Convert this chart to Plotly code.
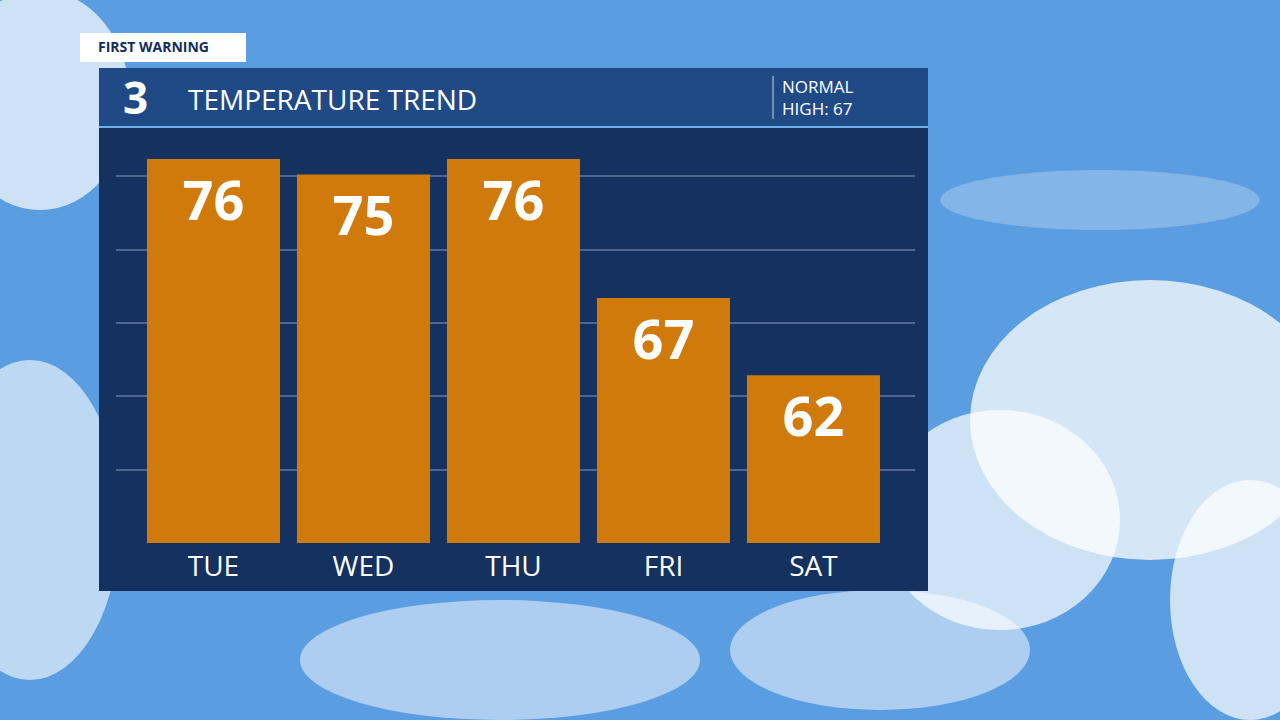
import plotly.graph_objects as go

days = ["TUE", "WED", "THU", "FRI", "SAT"]
highs = [76, 75, 76, 67, 62]
normal_high = 67

W, H = 1280, 720


def px_x(x):
    return x / W


def px_y(y):
    return 1 - y / H


fig = go.Figure(go.Bar(
    x=list(range(len(days))),
    y=highs,
    width=0.887,
    marker=dict(color="#d07a0c", line=dict(width=0)),
    text=[str(v) for v in highs],
    textposition="inside",
    insidetextanchor="end",
    textfont=dict(color="white", size=54, family="Open Sans", weight="bold"),
    cliponaxis=True,
))

shapes = []
# sky clouds (rough)
for cx, cy, rx, ry, op in [(40, 100, 90, 110, 0.7), (1150, 420, 180, 140, 0.75), (1000, 520, 120, 110, 0.7),
                          (30, 520, 90, 160, 0.6), (500, 660, 200, 60, 0.5), (880, 650, 150, 60, 0.5),
                          (1250, 600, 80, 120, 0.7), (1100, 200, 160, 30, 0.25)]:
    shapes.append(dict(type="circle", xref="paper", yref="paper", layer="below",
                       x0=px_x(cx - rx), x1=px_x(cx + rx), y0=px_y(cy + ry), y1=px_y(cy - ry),
                       fillcolor=f"rgba(255,255,255,{op})", line=dict(width=0)))
# panel
shapes.append(dict(type="rect", xref="paper", yref="paper", layer="below",
                   x0=px_x(99), x1=px_x(928), y0=px_y(591), y1=px_y(68),
                   fillcolor="#15315f", line=dict(width=0)))
shapes.append(dict(type="rect", xref="paper", yref="paper", layer="below",
                   x0=px_x(99), x1=px_x(928), y0=px_y(127), y1=px_y(68),
                   fillcolor="#1f4a86", line=dict(width=0)))
shapes.append(dict(type="line", xref="paper", yref="paper",
                   x0=px_x(99), x1=px_x(928), y0=px_y(127), y1=px_y(127),
                   line=dict(color="#6fb2ea", width=2)))
shapes.append(dict(type="line", xref="paper", yref="paper",
                   x0=px_x(773), x1=px_x(773), y0=px_y(119), y1=px_y(76),
                   line=dict(color="#c8d6ea", width=1)))
# first warning tab
shapes.append(dict(type="rect", xref="paper", yref="paper",
                   x0=px_x(80), x1=px_x(246), y0=px_y(62), y1=px_y(33),
                   fillcolor="white", line=dict(width=0)))

annotations = [
    dict(text="FIRST WARNING", x=px_x(96), y=px_y(47), xanchor="left", yanchor="middle",
         font=dict(color="#142c5a", size=14, family="Open Sans", weight="bold")),
    dict(text="3", x=px_x(135), y=px_y(97), xanchor="center", yanchor="middle",
         font=dict(color="white", size=44, family="Open Sans", weight="bold")),
    dict(text="TEMPERATURE TREND", x=px_x(186), y=px_y(99), xanchor="left", yanchor="middle",
         font=dict(color="white", size=28, family="Open Sans")),
    dict(text=f"NORMAL<br>HIGH: {normal_high}", x=px_x(780), y=px_y(98), xanchor="left", yanchor="middle",
         align="left", font=dict(color="white", size=17, family="Open Sans")),
]
for a in annotations:
    a.update(xref="paper", yref="paper", showarrow=False)

fig.update_layout(
    width=W, height=H,
    margin=dict(l=0, r=0, t=0, b=0),
    paper_bgcolor="#5a9de0",
    plot_bgcolor="rgba(0,0,0,0)",
    showlegend=False,
    shapes=shapes,
    annotations=annotations,
    xaxis=dict(domain=[px_x(116), px_x(915)], range=[-0.65, 4.677],
               tickvals=list(range(len(days))), ticktext=days, showgrid=False, zeroline=False,
               tickfont=dict(color="white", size=28, family="Open Sans"), ticks="", ticklabelstandoff=4),
    yaxis=dict(domain=[px_y(543), px_y(140)], range=[51.13, 77.23],
               tick0=51.13, dtick=4.75, showticklabels=False, zeroline=False,
               gridcolor="rgba(150,170,200,0.45)", gridwidth=2),
)
fig.write_html("out.html", config={"displayModeBar": False},
               post_script="document.body.style.margin='0';")
